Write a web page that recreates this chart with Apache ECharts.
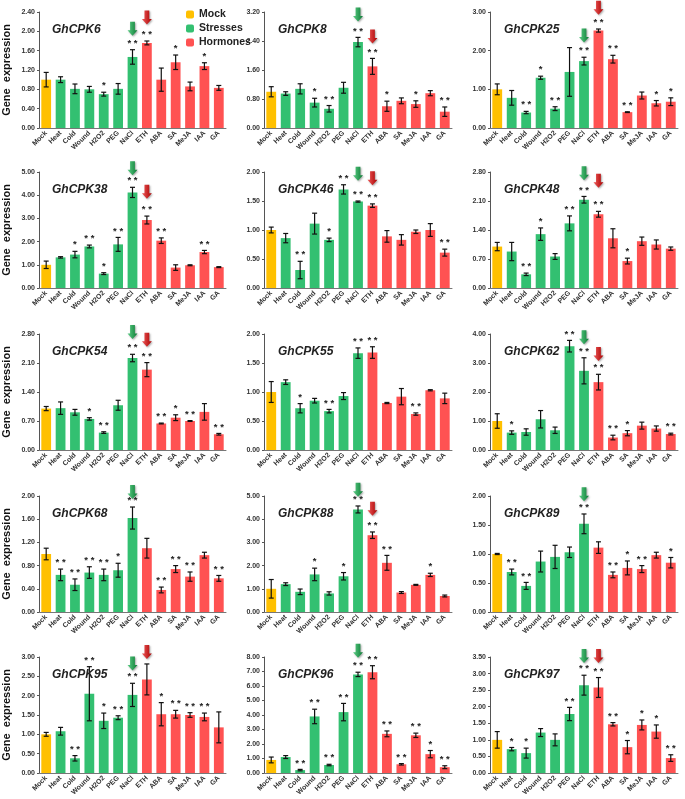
<!DOCTYPE html>
<html>
<head>
<meta charset="utf-8">
<script src="https://cdn.jsdelivr.net/npm/echarts@6/dist/echarts.min.js"></script>
<style>
  html, body { margin: 0; padding: 0; background: #fff; }
  #chart { width: 685px; height: 799px; }
</style>
</head>
<body>
<div id="chart"></div>
<script>
// treatments on the x axis
var categories = ['Mock', 'Heat', 'Cold', 'Wound', 'H2O2', 'PEG', 'NaCl', 'ETH', 'ABA', 'SA', 'MeJA', 'IAA', 'GA'];
var groupNames = ['Mock', 'Stresses', 'Hormones'];
var groupOf = [0, 1, 1, 1, 1, 1, 1, 2, 2, 2, 2, 2, 2];

// relative expression (mean), error and significance per gene
var mean_CPK6 = [1.00, 1.00, 0.81, 0.80, 0.70, 0.81, 1.47, 1.76, 1.00, 1.36, 0.86, 1.28, 0.83];
var err_CPK6  = [0.15, 0.06, 0.10, 0.06, 0.04, 0.11, 0.15, 0.04, 0.24, 0.15, 0.09, 0.07, 0.05];
var sig_CPK6  = ['', '', '', '', '*', '', '**', '**', '', '*', '', '*', ''];

var mean_CPK8 = [1.00, 0.95, 1.08, 0.70, 0.53, 1.11, 2.37, 1.70, 0.60, 0.75, 0.66, 0.96, 0.45];
var err_CPK8  = [0.14, 0.05, 0.14, 0.12, 0.09, 0.15, 0.13, 0.22, 0.14, 0.08, 0.09, 0.07, 0.13];
var sig_CPK8  = ['', '', '', '*', '**', '', '**', '**', '*', '', '*', '', '**'];

var mean_CPK25 = [1.00, 0.78, 0.40, 1.30, 0.50, 1.45, 1.73, 2.52, 1.78, 0.41, 0.84, 0.64, 0.68];
var err_CPK25  = [0.14, 0.19, 0.03, 0.04, 0.05, 0.63, 0.10, 0.04, 0.10, 0.01, 0.09, 0.07, 0.10];
var sig_CPK25  = ['', '', '**', '*', '**', '', '**', '**', '**', '**', '', '*', '*'];

var mean_CPK38 = [1.00, 1.32, 1.44, 1.79, 0.62, 1.88, 4.12, 2.93, 2.04, 0.88, 0.98, 1.55, 0.90];
var err_CPK38  = [0.16, 0.03, 0.14, 0.06, 0.04, 0.30, 0.22, 0.17, 0.12, 0.12, 0.02, 0.07, 0.02];
var sig_CPK38  = ['', '', '*', '**', '*', '**', '**', '**', '**', '', '', '**', ''];

var mean_CPK46 = [1.00, 0.86, 0.31, 1.11, 0.83, 1.70, 1.49, 1.42, 0.89, 0.83, 0.97, 1.00, 0.61];
var err_CPK46  = [0.05, 0.08, 0.15, 0.18, 0.03, 0.08, 0.01, 0.03, 0.10, 0.09, 0.03, 0.11, 0.06];
var sig_CPK46  = ['', '', '**', '', '*', '**', '**', '**', '', '', '', '', '**'];

var mean_CPK48 = [1.00, 0.88, 0.33, 1.30, 0.76, 1.56, 2.13, 1.78, 1.20, 0.65, 1.13, 1.05, 0.95];
var err_CPK48  = [0.10, 0.22, 0.03, 0.15, 0.07, 0.18, 0.08, 0.07, 0.23, 0.07, 0.10, 0.11, 0.04];
var sig_CPK48  = ['', '', '**', '*', '', '**', '**', '**', '', '*', '', '', ''];

var mean_CPK54 = [1.00, 1.01, 0.91, 0.75, 0.42, 1.08, 2.22, 1.94, 0.64, 0.78, 0.70, 0.92, 0.38];
var err_CPK54  = [0.05, 0.15, 0.07, 0.03, 0.02, 0.12, 0.09, 0.17, 0.01, 0.07, 0.01, 0.20, 0.02];
var sig_CPK54  = ['', '', '', '*', '**', '', '**', '**', '**', '*', '**', '', '**'];

var mean_CPK55 = [1.00, 1.17, 0.72, 0.85, 0.67, 0.93, 1.67, 1.68, 0.81, 0.92, 0.62, 1.03, 0.89];
var err_CPK55  = [0.18, 0.04, 0.08, 0.04, 0.03, 0.06, 0.09, 0.10, 0.01, 0.14, 0.02, 0.01, 0.09];
var sig_CPK55  = ['', '', '*', '', '**', '', '**', '**', '', '', '**', '', ''];

var mean_CPK62 = [1.00, 0.60, 0.62, 1.06, 0.68, 3.58, 2.73, 2.34, 0.43, 0.58, 0.84, 0.74, 0.55];
var err_CPK62  = [0.25, 0.06, 0.11, 0.30, 0.11, 0.20, 0.45, 0.27, 0.08, 0.09, 0.12, 0.09, 0.03];
var sig_CPK62  = ['', '*', '', '', '', '**', '**', '**', '**', '*', '', '', '**'];

var mean_CPK68 = [1.00, 0.64, 0.47, 0.68, 0.64, 0.72, 1.62, 1.10, 0.38, 0.74, 0.61, 0.98, 0.58];
var err_CPK68  = [0.10, 0.10, 0.10, 0.10, 0.10, 0.12, 0.19, 0.17, 0.05, 0.06, 0.08, 0.05, 0.05];
var sig_CPK68  = ['', '**', '**', '**', '**', '*', '**', '', '**', '**', '**', '', '**'];

var mean_CPK88 = [1.00, 1.20, 0.87, 1.62, 0.80, 1.54, 4.42, 3.31, 2.12, 0.84, 1.17, 1.60, 0.69];
var err_CPK88  = [0.40, 0.06, 0.12, 0.27, 0.07, 0.16, 0.15, 0.14, 0.32, 0.04, 0.02, 0.07, 0.04];
var sig_CPK88  = ['', '', '', '*', '', '*', '**', '**', '**', '', '', '*', ''];

var mean_CPK89 = [1.00, 0.69, 0.45, 0.87, 0.95, 1.03, 1.52, 1.11, 0.64, 0.76, 0.74, 0.98, 0.85];
var err_CPK89  = [0.01, 0.05, 0.06, 0.18, 0.20, 0.09, 0.17, 0.10, 0.05, 0.12, 0.06, 0.05, 0.09];
var sig_CPK89  = ['', '**', '**', '', '', '', '**', '', '**', '*', '**', '', '*'];

var mean_CPK95 = [1.00, 1.08, 0.38, 2.05, 1.35, 1.43, 2.02, 2.42, 1.52, 1.52, 1.50, 1.45, 1.18];
var err_CPK95  = [0.05, 0.10, 0.07, 0.70, 0.20, 0.05, 0.30, 0.40, 0.30, 0.10, 0.06, 0.10, 0.40];
var sig_CPK95  = ['', '', '**', '**', '*', '**', '**', '', '*', '**', '**', '**', ''];

var mean_CPK96 = [0.90, 1.10, 0.20, 3.90, 0.55, 4.20, 6.80, 6.95, 2.70, 0.60, 2.60, 1.30, 0.40];
var err_CPK96  = [0.20, 0.10, 0.05, 0.50, 0.05, 0.60, 0.15, 0.45, 0.20, 0.05, 0.15, 0.25, 0.10];
var sig_CPK96  = ['', '', '**', '**', '**', '**', '**', '**', '**', '**', '**', '*', '**'];

var mean_CPK97 = [1.00, 0.72, 0.60, 1.22, 1.00, 1.78, 2.65, 2.58, 1.47, 0.78, 1.45, 1.25, 0.45];
var err_CPK97  = [0.25, 0.05, 0.15, 0.12, 0.18, 0.20, 0.30, 0.30, 0.05, 0.20, 0.15, 0.20, 0.10];
var sig_CPK97  = ['', '*', '*', '', '', '**', '**', '**', '**', '*', '*', '*', '**'];

// y axis ranges and arrow tips (value where the green NaCl / red ETH arrow points)
var genes   = ['GhCPK6', 'GhCPK8', 'GhCPK25', 'GhCPK38', 'GhCPK46', 'GhCPK48', 'GhCPK54', 'GhCPK55', 'GhCPK62', 'GhCPK68', 'GhCPK88', 'GhCPK89', 'GhCPK95', 'GhCPK96', 'GhCPK97'];
var yMax    = [2.4, 3.2, 3.0, 5.0, 2.0, 2.8, 2.8, 2.0, 4.0, 2.0, 5.0, 2.0, 3.0, 8.0, 3.5];
var yStep   = [0.4, 0.8, 1.0, 1.0, 0.5, 0.7, 0.7, 0.5, 1.0, 0.4, 1.0, 0.5, 0.5, 1.0, 0.5];
var arrowNaCl = [1.91, 2.94, 2.21, 4.86, 1.85, 2.60, 2.68, 2.03, 3.65, 1.95, 4.97, 1.91, 2.65, 7.95, 3.32];
var arrowETH  = [2.14, 2.33, 2.93, 3.85, 1.77, 2.42, 2.49, 2.03, 3.07, null, 4.15, null, 2.95, 8.10, 3.32];

var means = [mean_CPK6, mean_CPK8, mean_CPK25, mean_CPK38, mean_CPK46, mean_CPK48, mean_CPK54, mean_CPK55, mean_CPK62, mean_CPK68, mean_CPK88, mean_CPK89, mean_CPK95, mean_CPK96, mean_CPK97];
var errs  = [err_CPK6, err_CPK8, err_CPK25, err_CPK38, err_CPK46, err_CPK48, err_CPK54, err_CPK55, err_CPK62, err_CPK68, err_CPK88, err_CPK89, err_CPK95, err_CPK96, err_CPK97];
var sigs  = [sig_CPK6, sig_CPK8, sig_CPK25, sig_CPK38, sig_CPK46, sig_CPK48, sig_CPK54, sig_CPK55, sig_CPK62, sig_CPK68, sig_CPK88, sig_CPK89, sig_CPK95, sig_CPK96, sig_CPK97];

var barColors = ['#FFC000', '#33C071', '#FF5252'];
var font = 'Liberation Sans, Arial, sans-serif';
var arrowPath = 'path://M2.6,0 L7.4,0 L7.4,8.5 L10,8.5 L5,14 L0,8.5 L2.6,8.5 Z';

var colLeft = [38, 264, 490];
var rowTop = [12, 172, 334, 496, 657];
var plotW = 188, plotH = 116;

var grids = [], xAxes = [], yAxes = [], series = [], titles = [];

genes.forEach(function (g, p) {
  var col = p % 3, row = Math.floor(p / 3);
  grids.push({ left: colLeft[col], top: rowTop[row], width: plotW, height: plotH });
  titles.push({
    text: g, left: colLeft[col] + 9, top: rowTop[row] + 7,
    textStyle: { fontSize: 12, fontWeight: 'bold', fontStyle: 'italic', color: '#222', fontFamily: font }
  });
  xAxes.push({
    type: 'category', gridIndex: p, data: categories,
    axisLine: { lineStyle: { color: '#777', width: 1 } },
    axisTick: { show: false },
    axisLabel: { interval: 0, rotate: 45, fontSize: 7, fontWeight: 'bold', color: '#333', margin: 4, fontFamily: font }
  });
  yAxes.push({
    type: 'value', gridIndex: p, min: 0, max: yMax[p], interval: yStep[p],
    name: col === 0 ? 'Gene  expression' : '',
    nameLocation: 'middle', nameGap: 27,
    nameTextStyle: { fontSize: 11, fontWeight: 'bold', color: '#111', fontFamily: font },
    axisLine: { show: true, lineStyle: { color: '#555', width: 1 } },
    axisTick: { show: true, length: 2, lineStyle: { color: '#555' } },
    splitLine: { show: false },
    axisLabel: { fontSize: 7, fontWeight: 'bold', color: '#333', margin: 4, fontFamily: font,
      formatter: function (v) { return v.toFixed(2); } }
  });

  groupNames.forEach(function (name, k) {
    var s = {
      name: name, type: 'bar', xAxisIndex: p, yAxisIndex: p,
      barWidth: '68%', barGap: '-100%',
      itemStyle: { color: barColors[k] },
      data: means[p].map(function (v, i) { return groupOf[i] === k ? v : '-'; })
    };
    var mk = null;
    if (k === 1 && arrowNaCl[p] != null) mk = { at: 'NaCl', v: arrowNaCl[p], c0: '#5ccf86', c1: '#0b7a34' };
    if (k === 2 && arrowETH[p] != null) mk = { at: 'ETH', v: arrowETH[p], c0: '#f05a5a', c1: '#a80000' };
    if (mk) {
      s.markPoint = {
        symbol: arrowPath, symbolSize: [10, 14], symbolOffset: [0, '-50%'],
        label: { show: false },
        itemStyle: {
          color: { type: 'linear', x: 0, y: 0, x2: 1, y2: 0,
            colorStops: [{ offset: 0, color: mk.c0 }, { offset: 1, color: mk.c1 }] },
          shadowColor: 'rgba(0,0,0,0.35)', shadowBlur: 2, shadowOffsetX: 1, shadowOffsetY: 1
        },
        data: [{ coord: [mk.at, mk.v] }]
      };
    }
    series.push(s);
  });

  // error bars and significance stars
  series.push({
    type: 'custom', xAxisIndex: p, yAxisIndex: p, z: 5,
    data: means[p].map(function (v, i) { return [i, v, errs[p][i]]; }),
    renderItem: function (params, api) {
      var i = api.value(0), m = api.value(1), e = api.value(2);
      var hi = api.coord([i, m + e]), lo = api.coord([i, m - e]);
      var cap = 2.5;
      var st = { stroke: '#111', lineWidth: 1.2 };
      var kids = [
        { type: 'line', shape: { x1: hi[0], y1: hi[1], x2: lo[0], y2: lo[1] }, style: st },
        { type: 'line', shape: { x1: hi[0] - cap, y1: hi[1], x2: hi[0] + cap, y2: hi[1] }, style: st },
        { type: 'line', shape: { x1: lo[0] - cap, y1: lo[1], x2: lo[0] + cap, y2: lo[1] }, style: st }
      ];
      var sg = sigs[p][params.dataIndex];
      if (sg) {
        kids.push({ type: 'text', x: hi[0], y: hi[1] - 1.5,
          style: { text: sg === '**' ? '* *' : '*', fill: '#222', font: 'bold 9.5px ' + font,
            align: 'center', verticalAlign: 'bottom' } });
      }
      return { type: 'group', children: kids };
    }
  });
});

var chart = echarts.init(document.getElementById('chart'));
chart.setOption({
  animation: false,
  title: titles,
  legend: {
    data: groupNames, orient: 'vertical', left: 181, top: 4,
    itemWidth: 8, itemHeight: 8, itemGap: 3, selectedMode: false,
    textStyle: { fontSize: 10.5, fontWeight: 'bold', color: '#222', fontFamily: font }
  },
  grid: grids,
  xAxis: xAxes,
  yAxis: yAxes,
  series: series
});
</script>
</body>
</html>
